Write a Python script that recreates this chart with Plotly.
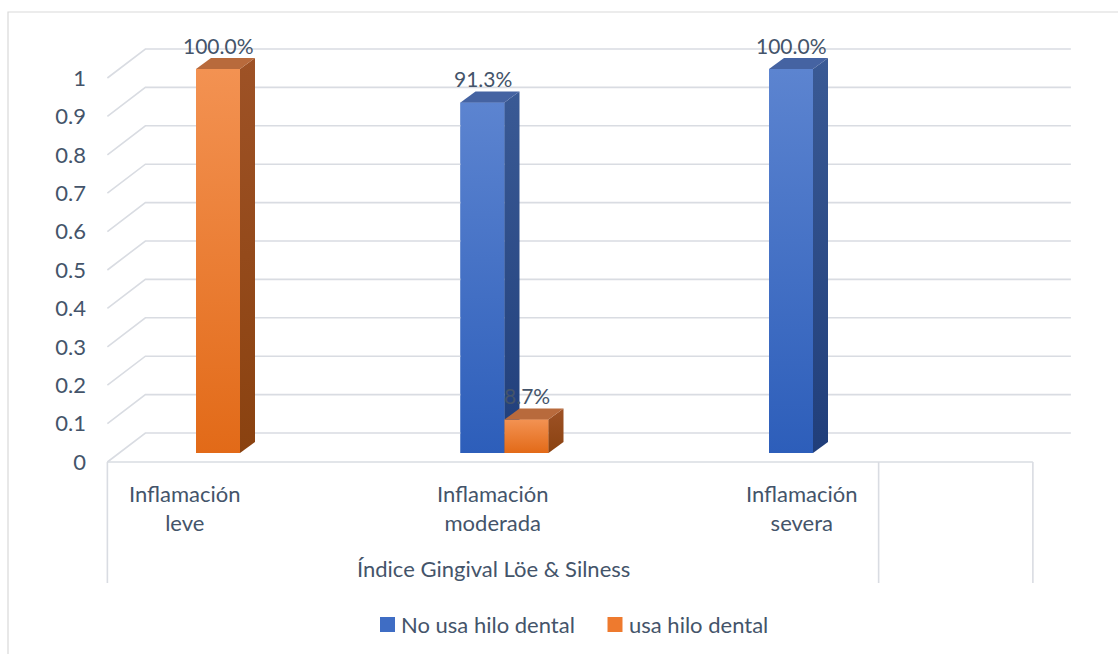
import plotly.graph_objects as go

# ---- data -------------------------------------------------------------
CATEGORIES = ["Inflamación<br>leve", "Inflamación<br>moderada", "Inflamación<br>severa"]
GROUP_TITLE = "Índice Gingival Löe & Silness"
SERIES_NAMES = ["No usa hilo dental", "usa hilo dental"]
NO_USA = [None, 0.913, 1.0]      # blank cell -> no bar
USA = [1.0, 0.087, None]
Y_TICKS = [0, 0.1, 0.2, 0.3, 0.4, 0.5, 0.6, 0.7, 0.8, 0.9, 1]
Y_TICK_TEXT = ["0", "0.1", "0.2", "0.3", "0.4", "0.5", "0.6", "0.7", "0.8", "0.9", "1"]

# ---- page / scale set-up ---------------------------------------------
W_PX, H_PX = 1118, 654
LEFT_MARGIN = 95
CAT0_PX, PX_PER_CAT = 184.5, 308.5     # front-edge centre of first category
ZERO_PX, PX_PER_UNIT = 462.0, 384.0    # front-edge zero line, pixels per 1.0


def xd(px):
    return (px - CAT0_PX) / PX_PER_CAT


def yd(py):
    return (ZERO_PX - py) / PX_PER_UNIT


def dx(px):
    return px / PX_PER_CAT


def dy(px):
    return px / PX_PER_UNIT


FONT = "Lato"
FONT_SIZE = 22
TEXT_COLOR = "#44546A"
GRID_COLOR = "#D9DCE2"

# 3-D look: offsets along the depth direction
FRONT_SHIFT = (dx(11.5), dy(9))     # floor front edge -> bar front plane
BAR_DEPTH = (dx(15), dy(11))        # bar front plane -> bar back plane
WALL_DEPTH = (dx(38), dy(29))       # floor front edge -> back wall
BAR_W = dx(44)

# axis frame (category units)
FRAME_LEFT, FRAME_MID, FRAME_RIGHT = -0.25, 2.25, 2.75
FRAME_BOTTOM = yd(583)

STYLES = [
    dict(front=("#2D5EBA", "#5C84D0"), side=("#203E7A", "#3A5A95"), top="#4563A2",
         swatch="#3F6DC4", off=-BAR_W),
    dict(front=("#E26A18", "#F39252"), side=("#8A4210", "#9E5226"), top="#B86A3C",
         swatch="#EE7A2E", off=0.0),
]

fig = go.Figure()

# solid front faces as real bars
for name, vals, st in zip(SERIES_NAMES, [NO_USA, USA], STYLES):
    fig.add_trace(go.Bar(
        x=list(range(len(CATEGORIES))), y=vals, base=FRONT_SHIFT[1],
        width=BAR_W, offset=FRONT_SHIFT[0] + st["off"],
        marker=dict(color=st["front"][0], line=dict(width=0)),
        name=name, showlegend=False, hoverinfo="skip"))

# back wall gridlines with their perspective floor diagonals, plus floor edge
gx, gy = [], []
for v in Y_TICKS:
    gx += [FRAME_LEFT, FRAME_LEFT + WALL_DEPTH[0], FRAME_RIGHT + WALL_DEPTH[0], None]
    gy += [v, v + WALL_DEPTH[1], v + WALL_DEPTH[1], None]
gx += [FRAME_LEFT, FRAME_RIGHT, None]
gy += [0, 0, None]
for xv in (FRAME_LEFT, FRAME_MID, FRAME_RIGHT):
    gx += [xv, xv, None]
    gy += [0, FRAME_BOTTOM, None]
fig.add_trace(go.Scatter(x=gx, y=gy, mode="lines",
                         line=dict(color=GRID_COLOR, width=1.6),
                         showlegend=False, hoverinfo="skip"))


def face(xs, ys, colors=None, solid=None):
    kw = dict(x=xs + [xs[0]], y=ys + [ys[0]], mode="lines", fill="toself",
              line=dict(width=0), showlegend=False, hoverinfo="skip")
    if colors is not None:
        kw["fillgradient"] = dict(type="vertical",
                                  colorscale=[[0, colors[0]], [1, colors[1]]])
    else:
        kw["fillcolor"] = solid
    fig.add_trace(go.Scatter(**kw))


# shaded faces of each bar (series order keeps the overlap right)
for vals, st in zip([NO_USA, USA], STYLES):
    for i, v in enumerate(vals):
        if v is None:
            continue
        xl = i + FRONT_SHIFT[0] + st["off"]
        xr = xl + BAR_W
        b = FRONT_SHIFT[1]
        t = b + v
        ddx, ddy = BAR_DEPTH
        face([xl, xr, xr, xl], [b, b, t, t], colors=st["front"])
        face([xr, xr + ddx, xr + ddx, xr], [b, b + ddy, t + ddy, t], colors=st["side"])
        face([xl, xr, xr + ddx, xl + ddx], [t, t, t + ddy, t + ddy], solid=st["top"])

annotations = []
# value labels above bars
for vals, st in zip([NO_USA, USA], STYLES):
    for i, v in enumerate(vals):
        if v is None:
            continue
        annotations.append(dict(
            x=i + FRONT_SHIFT[0] + st["off"] + BAR_W / 2,
            y=FRONT_SHIFT[1] + v + dy(24),
            text=f"{v * 100:.1f}%", showarrow=False,
            xanchor="center", yanchor="middle",
            font=dict(family=FONT, size=21, color=TEXT_COLOR)))

# category labels and group title
for i, c in enumerate(CATEGORIES):
    annotations.append(dict(x=i, y=yd(507.5), text=c, showarrow=False,
                            xanchor="center", yanchor="middle",
                            font=dict(family=FONT, size=FONT_SIZE, color=TEXT_COLOR)))
annotations.append(dict(x=(FRAME_LEFT + FRAME_MID) / 2, y=yd(568), text=GROUP_TITLE,
                        showarrow=False, xanchor="center", yanchor="middle",
                        font=dict(family=FONT, size=FONT_SIZE, color=TEXT_COLOR)))

# legend
LEG_SWATCH_PX = [387.5, 615.0]
LEG_TEXT_PX = [399.0, 627.0]
LEG_Y_PX = 624.5
fig.add_trace(go.Scatter(
    x=[xd(p) for p in LEG_SWATCH_PX], y=[yd(LEG_Y_PX)] * 2, mode="markers",
    marker=dict(symbol="square", size=15, color=[s["swatch"] for s in STYLES],
                line=dict(width=0)),
    showlegend=False, hoverinfo="skip"))
for name, p in zip(SERIES_NAMES, LEG_TEXT_PX):
    annotations.append(dict(x=xd(p), y=yd(LEG_Y_PX), text=name, showarrow=False,
                            xanchor="left", yanchor="middle",
                            font=dict(family=FONT, size=FONT_SIZE, color=TEXT_COLOR)))

# chart area outline (top and left edges fall inside the page)
plot_w = W_PX - LEFT_MARGIN
bx0 = (8 - LEFT_MARGIN) / plot_w
bx1 = 1.0 + 5 / plot_w
by0 = 1 - 12 / H_PX
by1 = -5 / H_PX
outline = dict(type="path", xref="paper", yref="paper",
               path=f"M {bx0},{by1} L {bx0},{by0} L {bx1},{by0}",
               line=dict(color="#D9D9D9", width=1.2), layer="below")

fig.update_layout(
    width=W_PX, height=H_PX,
    margin=dict(l=LEFT_MARGIN, r=0, t=0, b=0, pad=0),
    paper_bgcolor="white", plot_bgcolor="white",
    barmode="overlay",
    xaxis=dict(range=[xd(LEFT_MARGIN), xd(W_PX)], visible=False, fixedrange=True),
    yaxis=dict(range=[yd(H_PX), yd(0)], tickvals=Y_TICKS, ticktext=Y_TICK_TEXT,
               showgrid=False, zeroline=False, showline=False, ticks="",
               ticklabelstandoff=8, automargin=False, fixedrange=True,
               tickfont=dict(family=FONT, size=FONT_SIZE, color=TEXT_COLOR)),
    annotations=annotations,
    shapes=[outline],
    showlegend=False,
)

fig.write_html("out.html")
